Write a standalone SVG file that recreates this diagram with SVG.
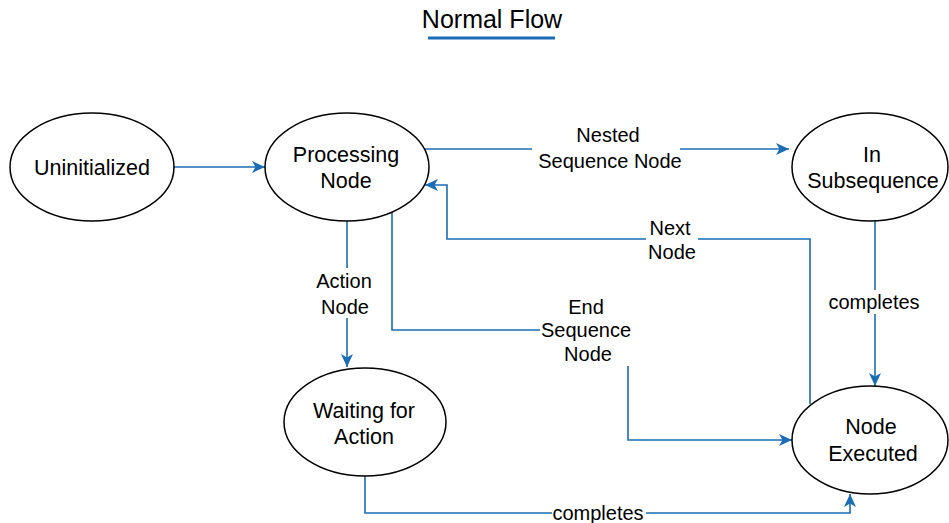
<svg xmlns="http://www.w3.org/2000/svg" width="949" height="523" viewBox="0 0 949 523">
  <style>
    .node ellipse { fill: #ffffff; stroke: #000000; stroke-width: 1.5; }
    .node text { font-family: "Liberation Sans", Arial, sans-serif; font-size: 21.5px; fill: #000000; text-anchor: middle; }
    .edge { fill: none; stroke: #1a6db3; stroke-width: 1.6; marker-end: url(#arrow); }
    .lbl-bg { fill: #ffffff; }
    .lbl { font-family: "Liberation Sans", Arial, sans-serif; font-size: 20px; fill: #000000; text-anchor: middle; }
    .title { font-family: "Liberation Sans", Arial, sans-serif; font-size: 25px; fill: #000000; text-anchor: middle; }
  </style>
  <defs>
    <marker id="arrow" markerUnits="userSpaceOnUse" markerWidth="14" markerHeight="12" viewBox="0 0 14 12" refX="13" refY="6" orient="auto">
      <path d="M0,0 L13,6 L0,12 L3.5,6 Z" fill="#1a6db3"/>
    </marker>
  </defs>

  <rect width="949" height="523" fill="#ffffff"/>

  <!-- title -->
  <g id="title">
    <text class="title" x="492" y="28">Normal Flow</text>
    <rect x="428" y="36.5" width="127" height="3" fill="#1a6db3"/>
  </g>

  <!-- connectors -->
  <g id="connectors">
    <path class="edge" d="M174,167 L265,167"/>
    <path class="edge" d="M424,149 L789,149"/>
    <path class="edge" d="M810,404 L810,239 L447,239 L447,185 L425,185"/>
    <path class="edge" d="M875,221 L875,386"/>
    <path class="edge" d="M347,221 L347,367"/>
    <path class="edge" d="M392,212 L392,330 L628,330 L628,440 L792,440"/>
    <path class="edge" d="M365,476 L365,513 L850,513 L850,494"/>

    <!-- edge labels -->
    <rect class="lbl-bg" x="532" y="122" width="148" height="48"/>
    <text class="lbl" x="608" y="142">Nested</text>
    <text class="lbl" x="610" y="168">Sequence Node</text>

    <rect class="lbl-bg" x="646" y="216" width="52" height="48"/>
    <text class="lbl" x="670" y="235">Next</text>
    <text class="lbl" x="672" y="259">Node</text>

    <rect class="lbl-bg" x="314" y="268" width="62" height="50"/>
    <text class="lbl" x="344" y="288">Action</text>
    <text class="lbl" x="345" y="314">Node</text>

    <rect class="lbl-bg" x="826" y="290" width="96" height="24"/>
    <text class="lbl" x="874" y="309">completes</text>

    <rect class="lbl-bg" x="540" y="294" width="98" height="72"/>
    <text class="lbl" x="586" y="314">End</text>
    <text class="lbl" x="586" y="337">Sequence</text>
    <text class="lbl" x="588" y="361">Node</text>

    <rect class="lbl-bg" x="552" y="502" width="94" height="21"/>
    <text class="lbl" x="598" y="520">completes</text>
  </g>

  <!-- nodes -->
  <g id="uninitialized" class="node">
    <ellipse cx="92" cy="167" rx="82" ry="54"/>
    <text x="92" y="175">Uninitialized</text>
  </g>
  <g id="processing-node" class="node">
    <ellipse cx="347" cy="167" rx="82" ry="54"/>
    <text x="346" y="162">Processing</text>
    <text x="346" y="188">Node</text>
  </g>
  <g id="in-subsequence" class="node">
    <ellipse cx="870" cy="167" rx="78" ry="54"/>
    <text x="872" y="162">In</text>
    <text x="873" y="188">Subsequence</text>
  </g>
  <g id="waiting-for-action" class="node">
    <ellipse cx="365" cy="422" rx="81" ry="54"/>
    <text x="364" y="418">Waiting for</text>
    <text x="364" y="444">Action</text>
  </g>
  <g id="node-executed" class="node">
    <ellipse cx="870" cy="440" rx="78" ry="54"/>
    <text x="871" y="434">Node</text>
    <text x="873" y="461">Executed</text>
  </g>
</svg>
